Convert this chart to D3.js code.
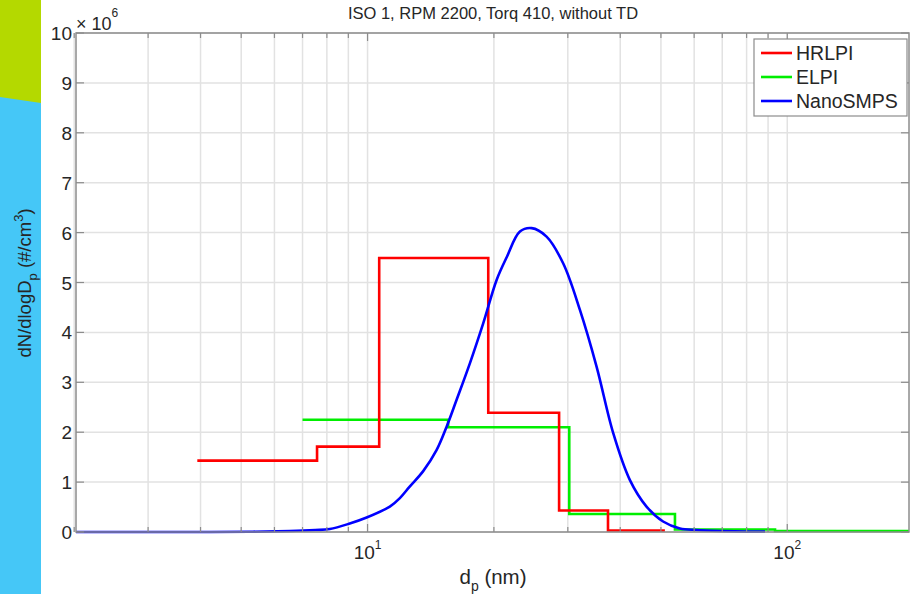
<!DOCTYPE html>
<html>
<head>
<meta charset="utf-8">
<script src="https://cdn.jsdelivr.net/npm/d3@7/dist/d3.min.js"></script>
<style>
  html, body { margin: 0; padding: 0; background: #fff; }
  svg { display: block; font-family: "Liberation Sans", Arial, sans-serif; }
</style>
</head>
<body>
<svg id="chart" width="913" height="594"></svg>
<script>
// Particle size distributions (dN/dlogDp, in units of 1e6 #/cm^3) versus diameter (nm)

// HRLPI: bin edges and per-bin level
const hrlpiEdges  = [3.93, 7.58, 10.66, 19.39, 28.6, 37.4, 51.1];
const hrlpiValues = [1.43, 1.71, 5.49, 2.39, 0.43, 0.03];

// ELPI: bin edges and per-bin level
const elpiEdges  = [7.0, 15.56, 30.24, 54.0, 93.5, 195];
const elpiValues = [2.25, 2.10, 0.36, 0.05, 0.02];

// NanoSMPS: continuous spectrum
const smpsDp = [2.02, 3.0, 4.0, 5.24, 6.53, 7.5, 8.13, 9.07, 9.95, 11.3, 11.94, 12.6, 13.57, 14.6,
                15.43, 16.3, 17.53, 18.86, 20.3, 21.44, 23.07, 24.6, 26.7, 29.26, 32.06, 35.14,
                38.49, 42.18, 46.2, 50.6, 55.5, 60.8, 70, 80, 88.5];
const smpsValues = [0, 0, 0, 0.005, 0.02, 0.04, 0.06, 0.17, 0.29, 0.51, 0.68, 0.91, 1.22, 1.64,
                    2.11, 2.65, 3.38, 4.18, 5.05, 5.5, 6.02, 6.09, 5.92, 5.38, 4.45, 3.31,
                    1.98, 1.04, 0.51, 0.21, 0.07, 0.04, 0.02, 0.01, 0.01];

const seriesNames = ["HRLPI", "ELPI", "NanoSMPS"];
const seriesColors = ["#ff0000", "#00ee00", "#0000ff"];

const yTicks = [0, 1, 2, 3, 4, 5, 6, 7, 8, 9, 10];
const xMajor = [10, 100];
const xMinor = [2, 3, 4, 5, 6, 7, 8, 9, 20, 30, 40, 50, 60, 70, 80, 90];

const titleText = "ISO 1, RPM 2200, Torq 410, without TD";

const svg = d3.select("#chart");
const W = 913, H = 594;
const pLeft = 76, pRight = 909, pTop = 33, pBottom = 532;

// decorative side band
svg.append("rect").attr("x", 0).attr("y", 0).attr("width", 41).attr("height", H).attr("fill", "#45c7f7");
svg.append("path").attr("d", "M0,0 L41,0 L41,103 L0,97 Z").attr("fill", "#b4d900");

const x = d3.scaleLog().domain([2.02, 195]).range([pLeft, pRight]);
const y = d3.scaleLinear().domain([0, 10]).range([pBottom, pTop]);

// grid
const grid = svg.append("g");
grid.selectAll("line.vx").data(xMajor.concat(xMinor)).join("line")
  .attr("class", "vx")
  .attr("x1", d => x(d)).attr("x2", d => x(d)).attr("y1", pTop).attr("y2", pBottom)
  .attr("stroke", "#e2e2e2").attr("stroke-width", 1.5);
grid.selectAll("line.hy").data(yTicks).join("line")
  .attr("class", "hy")
  .attr("x1", pLeft).attr("x2", pRight).attr("y1", d => y(d)).attr("y2", d => y(d))
  .attr("stroke", "#e2e2e2").attr("stroke-width", 1.5);

// series
const plot = svg.append("g");
function stepPoints(edges, values) {
  const pts = values.map((v, i) => [edges[i], v]);
  pts.push([edges[edges.length - 1], values[values.length - 1]]);
  return pts;
}
const stepLine = d3.line().x(d => x(d[0])).y(d => y(d[1])).curve(d3.curveStepAfter);
const smoothLine = d3.line().x(d => x(d[0])).y(d => y(d[1])).curve(d3.curveCatmullRom.alpha(0.5));

plot.append("path").datum(stepPoints(elpiEdges, elpiValues))
  .attr("d", stepLine).attr("fill", "none").attr("stroke", seriesColors[1]).attr("stroke-width", 2.6);
plot.append("path").datum(stepPoints(hrlpiEdges, hrlpiValues))
  .attr("d", stepLine).attr("fill", "none").attr("stroke", seriesColors[0]).attr("stroke-width", 2.6);
plot.append("path").datum(smpsDp.map((d, i) => [d, smpsValues[i]]))
  .attr("d", smoothLine).attr("fill", "none").attr("stroke", seriesColors[2]).attr("stroke-width", 2.6);

// axes box
const axisColor = "#8c8c8c";
svg.append("rect").attr("x", pLeft).attr("y", pTop).attr("width", pRight - pLeft).attr("height", pBottom - pTop)
  .attr("fill", "none").attr("stroke", axisColor).attr("stroke-width", 1.5);

const ticks = svg.append("g").attr("stroke", axisColor).attr("stroke-width", 1.2);
// y ticks (inward, both sides)
yTicks.forEach(t => {
  ticks.append("line").attr("x1", pLeft).attr("x2", pLeft + 8).attr("y1", y(t)).attr("y2", y(t));
  ticks.append("line").attr("x1", pRight).attr("x2", pRight - 8).attr("y1", y(t)).attr("y2", y(t));
});
xMajor.forEach(t => {
  ticks.append("line").attr("x1", x(t)).attr("x2", x(t)).attr("y1", pBottom).attr("y2", pBottom - 8);
  ticks.append("line").attr("x1", x(t)).attr("x2", x(t)).attr("y1", pTop).attr("y2", pTop + 8);
});
xMinor.forEach(t => {
  ticks.append("line").attr("x1", x(t)).attr("x2", x(t)).attr("y1", pBottom).attr("y2", pBottom - 5);
  ticks.append("line").attr("x1", x(t)).attr("x2", x(t)).attr("y1", pTop).attr("y2", pTop + 5);
});

const textColor = "#262626";
// y tick labels
svg.append("g").selectAll("text").data(yTicks).join("text")
  .attr("x", pLeft - 4).attr("y", d => y(d) + 7)
  .attr("text-anchor", "end").attr("font-size", 19).attr("fill", textColor)
  .text(d => d);

// exponent marker
const expo = svg.append("text").attr("x", pLeft).attr("y", 30).attr("font-size", 18).attr("fill", textColor);
expo.append("tspan").text("× 10");
expo.append("tspan").attr("dy", -13).attr("font-size", 12).text("6");

// x tick labels (10^k)
xMajor.forEach(t => {
  const k = Math.round(Math.log10(t));
  const tx = svg.append("text").attr("x", x(t)).attr("y", 559)
    .attr("text-anchor", "middle").attr("font-size", 19).attr("fill", textColor);
  tx.append("tspan").text("10");
  tx.append("tspan").attr("dy", -10).attr("font-size", 12).text(k);
});

// x axis label
const xl = svg.append("text").attr("x", 493).attr("y", 584)
  .attr("text-anchor", "middle").attr("font-size", 20.5).attr("fill", textColor);
xl.append("tspan").text("d");
xl.append("tspan").attr("dy", 7).attr("font-size", 14).text("p");
xl.append("tspan").attr("dy", -7).text(" (nm)");

// y axis label
const yl = svg.append("text").attr("transform", "translate(31,283) rotate(-90)")
  .attr("text-anchor", "middle").attr("font-size", 18.5).attr("fill", textColor);
yl.append("tspan").text("dN/dlogD");
yl.append("tspan").attr("dy", 6).attr("font-size", 13).text("p");
yl.append("tspan").attr("dy", -6).text(" (#/cm");
yl.append("tspan").attr("dy", -8).attr("font-size", 13).text("3");
yl.append("tspan").attr("dy", 8).text(")");

// title
svg.append("text").attr("x", 493).attr("y", 19).attr("text-anchor", "middle")
  .attr("font-size", 16.5).attr("fill", textColor).text(titleText);

// legend
const lg = svg.append("g");
lg.append("rect").attr("x", 754).attr("y", 39).attr("width", 153).attr("height", 77)
  .attr("fill", "#fff").attr("stroke", axisColor).attr("stroke-width", 1.2);
seriesNames.forEach((name, i) => {
  const ry = 53 + i * 24;
  lg.append("line").attr("x1", 761).attr("x2", 792).attr("y1", ry).attr("y2", ry)
    .attr("stroke", seriesColors[i]).attr("stroke-width", 2.6);
  lg.append("text").attr("x", 796).attr("y", ry + 7).attr("font-size", 19.5).attr("fill", textColor).text(name);
});
</script>
</body>
</html>
